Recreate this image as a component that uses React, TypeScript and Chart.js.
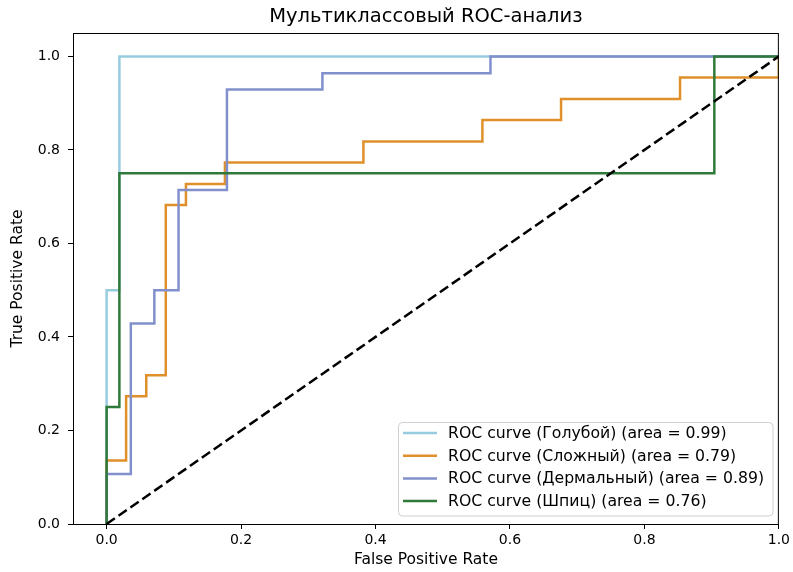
import React, { useEffect, useRef } from "react";
import { Chart, registerables } from "chart.js";
Chart.register(...registerables);

const chartTitle = "Мультиклассовый ROC-анализ";
const xAxisTitle = "False Positive Rate";
const yAxisTitle = "True Positive Rate";
const classNames = ["Голубой", "Сложный", "Дермальный", "Шпиц"];
const aucValues = [0.99, 0.79, 0.89, 0.76];
const classColors = ["#96cbe0", "#e0902a", "#8190cc", "#2f7a3a"];

const fprBlue = [0, 0, 0.019, 0.019, 1];
const tprBlue = [0, 0.5, 0.5, 1, 1];
const fprOrange = [0, 0, 0.029, 0.029, 0.059, 0.059, 0.088, 0.088, 0.118, 0.118, 0.176, 0.176, 0.382, 0.382, 0.559, 0.559, 0.676, 0.676, 0.853, 0.853, 1, 1];
const tprOrange = [0, 0.136, 0.136, 0.273, 0.273, 0.318, 0.318, 0.682, 0.682, 0.727, 0.727, 0.773, 0.773, 0.818, 0.818, 0.864, 0.864, 0.909, 0.909, 0.955, 0.955, 1];
const fprPurple = [0, 0, 0.036, 0.036, 0.071, 0.071, 0.107, 0.107, 0.179, 0.179, 0.321, 0.321, 0.571, 0.571, 1];
const tprPurple = [0, 0.107, 0.107, 0.429, 0.429, 0.5, 0.5, 0.714, 0.714, 0.929, 0.929, 0.964, 0.964, 1, 1];
const fprGreen = [0, 0, 0.019, 0.019, 0.904, 0.904, 1];
const tprGreen = [0, 0.25, 0.25, 0.75, 0.75, 1, 1];
const chanceX = [0, 1];
const chanceY = [0, 1];

const xTicks = [0, 0.2, 0.4, 0.6, 0.8, 1.0];
const yTicks = [0, 0.2, 0.4, 0.6, 0.8, 1.0];

const FONT = "'DejaVu Sans', sans-serif";

function pts(xs: number[], ys: number[]) {
  return xs.map((x, i) => ({ x, y: ys[i] }));
}

const overlayPlugin = {
  id: "overlay",
  afterDraw(chart: any) {
    const { ctx, chartArea } = chart;
    const { left, right, top, bottom } = chartArea;
    ctx.save();
    // frame
    ctx.strokeStyle = "#000";
    ctx.lineWidth = 1;
    ctx.strokeRect(left + 0.5, top + 0.5, right - left - 1, bottom - top);
    // title
    ctx.fillStyle = "#000";
    ctx.textAlign = "center";
    ctx.textBaseline = "middle";
    ctx.font = `19.5px ${FONT}`;
    ctx.fillText(chartTitle, (left + right) / 2, 17);
    // axis titles
    ctx.font = `15.5px ${FONT}`;
    ctx.fillText(xAxisTitle, (left + right) / 2, 560);
    ctx.save();
    ctx.translate(18, (top + bottom) / 2);
    ctx.rotate(-Math.PI / 2);
    ctx.fillText(yAxisTitle, 0, 0);
    ctx.restore();
    // legend
    const bx = 398, by = 422, bw = 375, bh = 94;
    ctx.fillStyle = "rgba(255,255,255,0.8)";
    ctx.strokeStyle = "#d0d0d0";
    ctx.lineWidth = 1;
    ctx.beginPath();
    const r = 4;
    ctx.moveTo(bx + r, by + 0.5);
    ctx.arcTo(bx + bw, by + 0.5, bx + bw, by + bh, r);
    ctx.arcTo(bx + bw, by + bh, bx, by + bh, r);
    ctx.arcTo(bx + 0.5, by + bh, bx + 0.5, by, r);
    ctx.arcTo(bx + 0.5, by + 0.5, bx + bw, by + 0.5, r);
    ctx.closePath();
    ctx.fill();
    ctx.stroke();
    ctx.font = `15.7px ${FONT}`;
    ctx.textAlign = "left";
    ctx.textBaseline = "middle";
    classNames.forEach((name, i) => {
      const y = 433 + i * 22.7;
      ctx.strokeStyle = classColors[i];
      ctx.lineWidth = 2.5;
      ctx.beginPath();
      ctx.moveTo(403, y);
      ctx.lineTo(437, y);
      ctx.stroke();
      ctx.fillStyle = "#000";
      ctx.fillText(`ROC curve (${name}) (area = ${aucValues[i].toFixed(2)})`, 448, y + 1);
    });
    ctx.restore();
  },
};

export default function App() {
  const ref = useRef<HTMLCanvasElement>(null);
  useEffect(() => {
    if (!ref.current) return;
    const series = [
      pts(fprBlue, tprBlue),
      pts(fprOrange, tprOrange),
      pts(fprPurple, tprPurple),
      pts(fprGreen, tprGreen),
    ];
    const datasets: any[] = series.map((data, i) => ({
      label: `ROC curve (${classNames[i]}) (area = ${aucValues[i].toFixed(2)})`,
      data,
      borderColor: classColors[i],
      borderWidth: 2.5,
      pointRadius: 0,
      fill: false,
      tension: 0,
      order: 10 - i,
    }));
    datasets.push({
      label: "chance",
      data: pts(chanceX, chanceY),
      borderColor: "#000",
      borderWidth: 2.5,
      borderDash: [10, 4.5],
      pointRadius: 0,
      fill: false,
      order: 0,
    });
    const chart = new Chart(ref.current, {
      type: "line",
      data: { datasets },
      plugins: [overlayPlugin],
      options: {
        animation: false,
        responsive: false,
        maintainAspectRatio: false,
        parsing: false as any,
        layout: { padding: { top: 33, right: 12, left: 0, bottom: 0 } },
        plugins: { legend: { display: false }, title: { display: false }, tooltip: { enabled: false } },
        scales: {
          x: {
            type: "linear",
            min: -0.05,
            max: 1.0,
            afterBuildTicks: (s: any) => { s.ticks = xTicks.map((v) => ({ value: v })); },
            afterFit: (s: any) => { s.height = 48; },
            grid: { drawOnChartArea: false, drawTicks: true, tickLength: 5, color: "#000" },
            border: { display: false },
            ticks: {
              color: "#000",
              padding: 3,
              font: { family: "DejaVu Sans", size: 14 },
              maxRotation: 0,
              callback: (v: any) => Number(v).toFixed(1),
            },
          },
          y: {
            type: "linear",
            min: 0,
            max: 1.05,
            afterBuildTicks: (s: any) => { s.ticks = yTicks.map((v) => ({ value: v })); },
            afterFit: (s: any) => { s.width = 73; },
            grid: { drawOnChartArea: false, drawTicks: true, tickLength: 5, color: "#000" },
            border: { display: false },
            ticks: {
              color: "#000",
              padding: 8,
              font: { family: "DejaVu Sans", size: 14 },
              callback: (v: any) => Number(v).toFixed(1),
            },
          },
        },
      },
    });
    return () => chart.destroy();
  }, []);
  return (
    <div style={{ position: "absolute", left: 0, top: 0, width: 793, height: 572, background: "#fff" }}>
      <canvas ref={ref} width={793} height={572} style={{ width: 793, height: 572 }} />
    </div>
  );
}
